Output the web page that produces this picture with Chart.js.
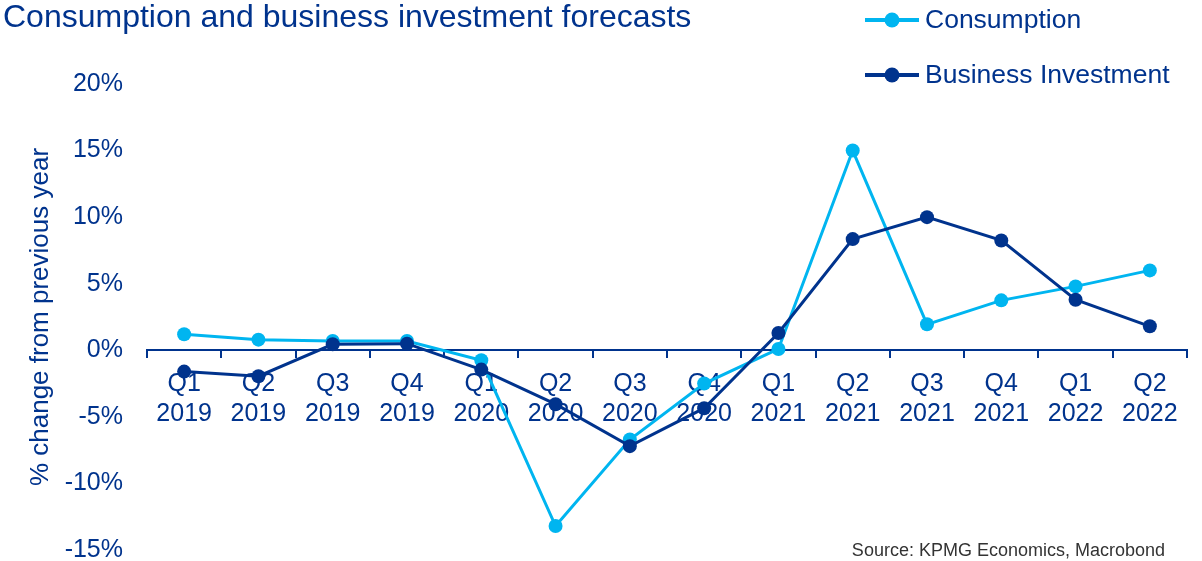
<!DOCTYPE html>
<html>
<head>
<meta charset="utf-8">
<title>Consumption and business investment forecasts</title>
<script src="https://cdn.jsdelivr.net/npm/chart.js@4.4.1/dist/chart.umd.min.js"></script>
<style>
  html, body { margin: 0; padding: 0; background: #fff; }
  canvas { display: block; }
</style>
</head>
<body>
<canvas id="chart" width="1202" height="561"></canvas>
<script>
// quarterly % change from previous year
const quarters = [
  ['Q1', '2019'], ['Q2', '2019'], ['Q3', '2019'], ['Q4', '2019'],
  ['Q1', '2020'], ['Q2', '2020'], ['Q3', '2020'], ['Q4', '2020'],
  ['Q1', '2021'], ['Q2', '2021'], ['Q3', '2021'], ['Q4', '2021'],
  ['Q1', '2022'], ['Q2', '2022']
];
const consumption = [1.2, 0.8, 0.7, 0.7, -0.75, -13.2, -6.7, -2.5, 0.1, 15.0, 1.95, 3.75, 4.8, 6.0];
const businessInvestment = [-1.6, -1.95, 0.45, 0.5, -1.45, -4.05, -7.2, -4.35, 1.3, 8.35, 10.0, 8.25, 3.8, 1.8];
const yMin = -15;
const yMax = 20;
const yStep = 5;

const NAVY = '#00338D';
const CYAN = '#00B5F0';
const FONT = "'Liberation Sans', Arial, sans-serif";

// title, stacked legend and source line drawn straight onto the canvas
const extras = {
  id: 'extras',
  afterDraw(chart) {
    const ctx = chart.ctx;
    ctx.save();

    ctx.fillStyle = NAVY;
    ctx.font = '32px ' + FONT;
    ctx.textAlign = 'left';
    ctx.textBaseline = 'alphabetic';
    ctx.fillText('Consumption and business investment forecasts', 3, 27);

    const rows = [20, 75];
    chart.data.datasets.forEach((ds, i) => {
      const y = rows[i];
      ctx.strokeStyle = ds.borderColor;
      ctx.lineWidth = 4;
      ctx.beginPath();
      ctx.moveTo(865, y);
      ctx.lineTo(919, y);
      ctx.stroke();
      ctx.fillStyle = ds.borderColor;
      ctx.beginPath();
      ctx.arc(892, y, 7.5, 0, Math.PI * 2);
      ctx.fill();
      ctx.fillStyle = NAVY;
      ctx.font = '26.5px ' + FONT;
      ctx.textBaseline = 'middle';
      ctx.fillText(ds.label, 925, y + 1);
    });

    ctx.fillStyle = '#333333';
    ctx.font = '18px ' + FONT;
    ctx.textAlign = 'right';
    ctx.textBaseline = 'middle';
    ctx.fillText('Source: KPMG Economics, Macrobond', 1165, 551);

    ctx.restore();
  }
};

new Chart(document.getElementById('chart'), {
  type: 'line',
  data: {
    labels: quarters,
    datasets: [
      {
        label: 'Consumption',
        data: consumption,
        borderColor: CYAN,
        backgroundColor: CYAN,
        borderWidth: 3,
        pointRadius: 7,
        pointHoverRadius: 7,
        pointBorderWidth: 0,
        tension: 0,
        order: 1
      },
      {
        label: 'Business Investment',
        data: businessInvestment,
        borderColor: NAVY,
        backgroundColor: NAVY,
        borderWidth: 3,
        pointRadius: 7,
        pointHoverRadius: 7,
        pointBorderWidth: 0,
        tension: 0,
        order: 0
      }
    ]
  },
  options: {
    responsive: false,
    animation: false,
    devicePixelRatio: 1,
    layout: { padding: { top: 84, bottom: 11, left: 0, right: 15 } },
    plugins: {
      legend: { display: false },
      title: { display: false },
      tooltip: { enabled: false }
    },
    scales: {
      x: {
        type: 'category',
        offset: true,
        position: { y: 0 },
        grid: {
          display: true,
          offset: true,
          drawOnChartArea: false,
          drawTicks: true,
          tickLength: 7,
          color: NAVY,
          lineWidth: 2
        },
        border: { display: true, color: NAVY, width: 2 },
        ticks: {
          color: NAVY,
          font: { family: FONT, size: 25, lineHeight: 1.2 },
          padding: 12,
          maxRotation: 0,
          autoSkip: false
        },
        afterFit(scale) {
          scale.height = 0;
          scale.paddingLeft = 0;
          scale.paddingRight = 0;
        }
      },
      y: {
        min: yMin,
        max: yMax,
        grid: { display: false, drawTicks: false },
        border: { display: false },
        ticks: {
          stepSize: yStep,
          color: NAVY,
          font: { family: FONT, size: 25 },
          padding: 24,
          callback: v => v + '%'
        },
        title: {
          display: true,
          text: '% change from previous year',
          color: NAVY,
          font: { family: FONT, size: 26, lineHeight: 1.2 },
          padding: { top: 25, bottom: 0 }
        },
        afterFit(scale) {
          scale.width = 147;
          scale.paddingTop = 0;
          scale.paddingBottom = 0;
        }
      }
    }
  },
  plugins: [extras]
});
</script>
</body>
</html>
